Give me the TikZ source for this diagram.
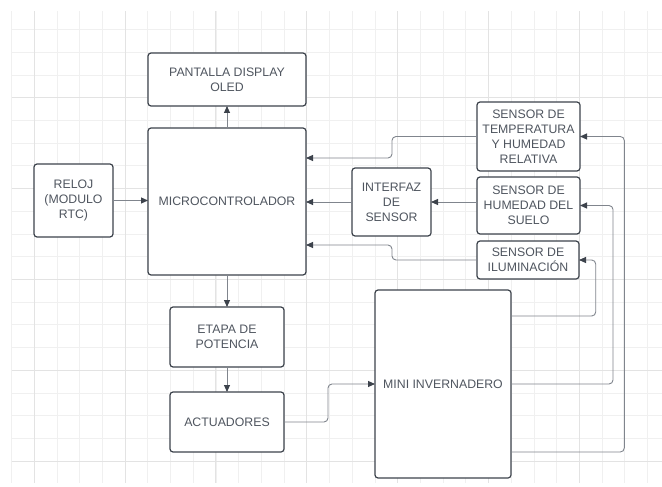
\documentclass[tikz,border=0pt]{standalone}
\usepackage{fontspec}
\setmainfont{Liberation Sans}
\usetikzlibrary{arrows.meta}
\definecolor{boxline}{HTML}{3D434C}
\definecolor{txt}{HTML}{4F555F}
\definecolor{wire}{HTML}{80858D}
\definecolor{gridminor}{HTML}{F0F0F0}
\definecolor{gridmajor}{HTML}{E3E3E3}
\begin{document}
\begin{tikzpicture}[x=1pt,y=-1pt,
  blk/.style={draw=boxline, line width=1.2pt, rounded corners=3pt, fill=white, inner sep=0pt, outer sep=0pt, align=center, text=txt, font=\fontsize{12.3}{15}\selectfont},
  conn/.style={draw=wire, line width=0.9pt, rounded corners=4pt, -{Triangle[length=7pt,width=6pt,color=boxline]}},
  gminor/.style={draw=gridminor, line width=0.8pt},
  gmajor/.style={draw=gridmajor, line width=1pt}
]
\fill[white] (0,0) rectangle (662,487);
\useasboundingbox (0,0) rectangle (662,487);
% grid
\foreach \k in {0,...,28} {
  \pgfmathsetmacro\xx{11.6+\k*22.71}
  \draw[gminor] (\xx,11.5) -- (\xx,483);
}
\foreach \k in {0,...,19} {
  \pgfmathsetmacro\yy{29.6+\k*22.71}
  \draw[gminor] (11.5,\yy) -- (662,\yy);
}
\foreach \k in {1,5,...,25} {
  \pgfmathsetmacro\xx{11.6+\k*22.71}
  \draw[gmajor] (\xx,11.5) -- (\xx,483);
}
\foreach \k in {3,7,...,19} {
  \pgfmathsetmacro\yy{29.6+\k*22.71}
  \draw[gmajor] (11.5,\yy) -- (662,\yy);
}
% boxes
\node[blk, minimum width=158pt, minimum height=53pt] (pant) at (227,79.5) {PANTALLA DISPLAY\\OLED};
\node[blk, minimum width=158pt, minimum height=147pt] (micro) at (227,201.5) {MICROCONTROLADOR};
\node[blk, minimum width=79pt, minimum height=73pt] (reloj) at (73.5,200.5) {RELOJ\\(MODULO\\RTC)};
\node[blk, minimum width=79pt, minimum height=68pt] (interfaz) at (391.5,202) {INTERFAZ\\DE\\SENSOR};
\node[blk, minimum width=103pt, minimum height=69pt] (temp) at (528.5,136.5) {SENSOR DE\\TEMPERATURA\\Y HUMEDAD\\RELATIVA};
\node[blk, minimum width=103pt, minimum height=57pt] (hum) at (528.5,205.5) {SENSOR DE\\HUMEDAD DEL\\SUELO};
\node[blk, minimum width=102pt, minimum height=38pt] (ilum) at (528,260) {SENSOR DE\\ILUMINACIÓN};
\node[blk, minimum width=136pt, minimum height=188pt] (mini) at (443,384) {MINI INVERNADERO};
\node[blk, minimum width=114pt, minimum height=60pt] (etapa) at (227,337) {ETAPA DE\\POTENCIA};
\node[blk, minimum width=114pt, minimum height=60pt] (act) at (227,422) {ACTUADORES};
% connectors
\draw[conn] (micro.north) -- (pant.south);
\draw[conn] (reloj.east) -- (micro.west |- reloj.east);
\draw[conn] (micro.south) -- (etapa.north);
\draw[conn] (etapa.south) -- (act.north);
\draw[conn] (act.east) -- (328,422) -- (328,384) -- (mini.west);
\draw[conn] ([yshift=-26pt]mini.north east) -- (595.7,316) -- (595.7,260) -- (ilum.east);
\draw[conn] (mini.east) -- (613,384) -- (613,205.5) -- (hum.east);
\draw[conn] ([yshift=-162pt]mini.north east) -- (624.3,452) -- (624.3,136.5) -- (temp.east);
\draw[conn] (temp.west) -- (392,136.5) -- (392,158) -- ([yshift=-30pt]micro.north east);
\draw[conn] ([yshift=3.5pt]hum.west) -- (interfaz.east);
\draw[conn] (interfaz.west) -- (micro.east |- interfaz.west);
\draw[conn] (ilum.west) -- (392,260) -- (392,245) -- ([yshift=-117pt]micro.north east);
\end{tikzpicture}
\end{document}
